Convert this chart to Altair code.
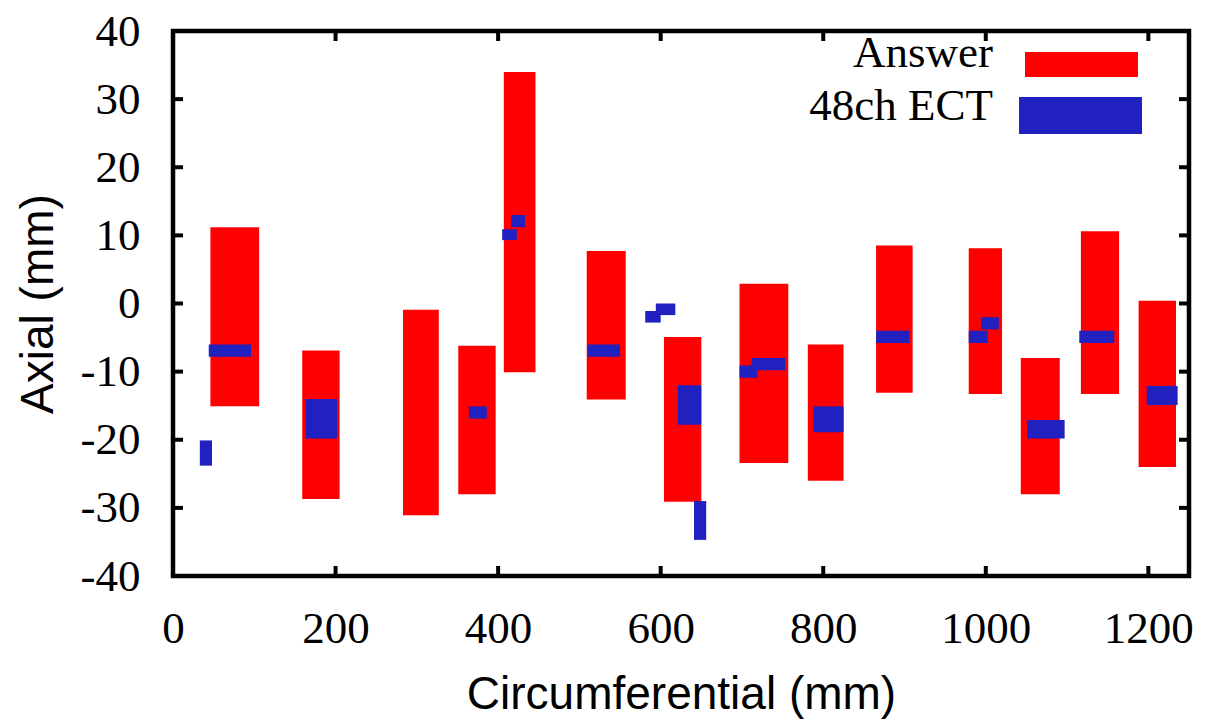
import altair as alt
import pandas as pd

# ---- data ----
red_x1 = [46, 159, 283, 351, 407, 509, 604, 697, 781, 865, 979, 1043, 1117, 1188]
red_x2 = [106, 205, 327, 397, 446, 557, 650, 757, 825, 910, 1020, 1091, 1164, 1234]
red_y1 = [-15.1, -28.7, -31.1, -28.0, -10.1, -14.1, -29.1, -23.4, -26.0, -13.1, -13.3, -28.0, -13.3, -24.0]
red_y2 = [11.2, -6.9, -0.9, -6.2, 34.0, 7.7, -4.9, 2.9, -6.0, 8.5, 8.1, -8.0, 10.6, 0.4]

blue_x1 = [33, 44, 163, 364, 405, 416, 510, 581, 594, 621, 641, 697, 712, 788, 865, 979, 994, 1051, 1115, 1198]
blue_x2 = [48, 96, 202, 386, 423, 433, 550, 600, 618, 650, 656, 719, 753, 825, 906, 1002, 1016, 1097, 1158, 1236]
blue_y1 = [-23.8, -7.8, -19.8, -16.9, 9.3, 11.2, -7.8, -2.8, -1.7, -17.8, -34.7, -10.9, -9.8, -18.9, -5.8, -5.8, -3.8, -19.8, -5.8, -14.9]
blue_y2 = [-20.1, -6.0, -14.0, -15.1, 10.9, 13.0, -6.0, -1.1, 0.0, -12.0, -29.0, -9.1, -8.0, -15.1, -4.0, -4.0, -2.0, -17.1, -4.0, -12.1]

x_ticks = [0, 200, 400, 600, 800, 1000, 1200]
y_ticks = [-40, -30, -20, -10, 0, 10, 20, 30, 40]
legend_labels = ["Answer", "48ch ECT"]

RED = "#FF0000"
BLUE = "#2121BF"
W, H = 1016, 545

red_df = pd.DataFrame({"x1": red_x1, "x2": red_x2, "y1": red_y1, "y2": red_y2})
blue_df = pd.DataFrame({"x1": blue_x1, "x2": blue_x2, "y1": blue_y1, "y2": blue_y2})
xt_df = pd.DataFrame({"x1": x_ticks})
yt_df = pd.DataFrame({"y1": y_ticks})

xs = alt.Scale(domain=[0, 1250], nice=False, zero=False)
ys = alt.Scale(domain=[-40, 40], nice=False, zero=False)

x_axis = alt.Axis(
    values=x_ticks, tickSize=0, domain=False, grid=False,
    labelExpr="'' + datum.value", labelFlush=False, labelOverlap=False,
    labelFont="Liberation Serif", labelFontSize=45, labelColor="black",
    labelPadding=66, labelBaseline="alphabetic",
    title="Circumferential (mm)", titleFont="Liberation Sans", titleFontSize=46,
    titleFontWeight="normal", titleColor="black",
    titleX=W / 2, titleY=132, titleAlign="center", titleBaseline="alphabetic",
)
y_axis = alt.Axis(
    values=y_ticks, tickSize=0, domain=False, grid=False,
    labelExpr="'' + datum.value", labelFlush=False, labelOverlap=False,
    labelFont="Liberation Serif", labelFontSize=45, labelColor="black",
    labelPadding=33,
    title="Axial (mm)", titleFont="Liberation Sans", titleFontSize=46,
    titleFontWeight="normal", titleColor="black", titleAngle=270,
    titleX=-135, titleY=H / 2, titleAlign="center", titleBaseline="middle",
)

X = lambda f: alt.X(f, scale=xs, axis=x_axis, title="Circumferential (mm)")
Y = lambda f: alt.Y(f, scale=ys, axis=y_axis, title="Axial (mm)")

red = alt.Chart(red_df).mark_rect(color=RED, strokeWidth=0).encode(
    x=X("x1:Q"), x2="x2:Q", y=Y("y1:Q"), y2="y2:Q",
)
blue = alt.Chart(blue_df).mark_rect(color=BLUE, strokeWidth=0).encode(
    x=X("x1:Q"), x2="x2:Q", y=Y("y1:Q"), y2="y2:Q",
)

tick_style = dict(color="black", strokeWidth=4)
t_bottom = alt.Chart(xt_df).mark_rule(**tick_style).encode(
    x=X("x1:Q"), y=alt.value(H), y2=alt.value(H - 10))
t_top = alt.Chart(xt_df).mark_rule(**tick_style).encode(
    x=X("x1:Q"), y=alt.value(0), y2=alt.value(10))
t_left = alt.Chart(yt_df).mark_rule(**tick_style).encode(
    y=Y("y1:Q"), x=alt.value(0), x2=alt.value(10))
t_right = alt.Chart(yt_df).mark_rule(**tick_style).encode(
    y=Y("y1:Q"), x=alt.value(W), x2=alt.value(W - 10))

leg_df = pd.DataFrame({"label": legend_labels})
leg_text1 = alt.Chart(leg_df).transform_filter(alt.datum.label == legend_labels[0]).mark_text(
    align="right", baseline="alphabetic", font="Liberation Serif", fontSize=45, color="black"
).encode(text="label:N", x=alt.value(820), y=alt.value(36))
leg_text2 = alt.Chart(leg_df).transform_filter(alt.datum.label == legend_labels[1]).mark_text(
    align="right", baseline="alphabetic", font="Liberation Serif", fontSize=45, color="black"
).encode(text="label:N", x=alt.value(820), y=alt.value(89))
leg_sw1 = alt.Chart(leg_df).transform_filter(alt.datum.label == legend_labels[0]).mark_rect(
    color=RED, strokeWidth=0
).encode(x=alt.value(852), x2=alt.value(965), y=alt.value(21), y2=alt.value(46))
leg_sw2 = alt.Chart(leg_df).transform_filter(alt.datum.label == legend_labels[1]).mark_rect(
    color=BLUE, strokeWidth=0
).encode(x=alt.value(846), x2=alt.value(969), y=alt.value(66), y2=alt.value(103))

chart = alt.layer(
    red, blue, t_bottom, t_top, t_left, t_right, leg_text1, leg_text2, leg_sw1, leg_sw2
).properties(
    width=W, height=H,
    autosize=alt.AutoSizeParams(type="none"),
    padding={"left": 173, "top": 31, "right": 24, "bottom": 144},
    background="white",
).configure_view(stroke="black", strokeWidth=4.5)

chart.save("out.html", embed_options={"renderer": "svg", "actions": False})
